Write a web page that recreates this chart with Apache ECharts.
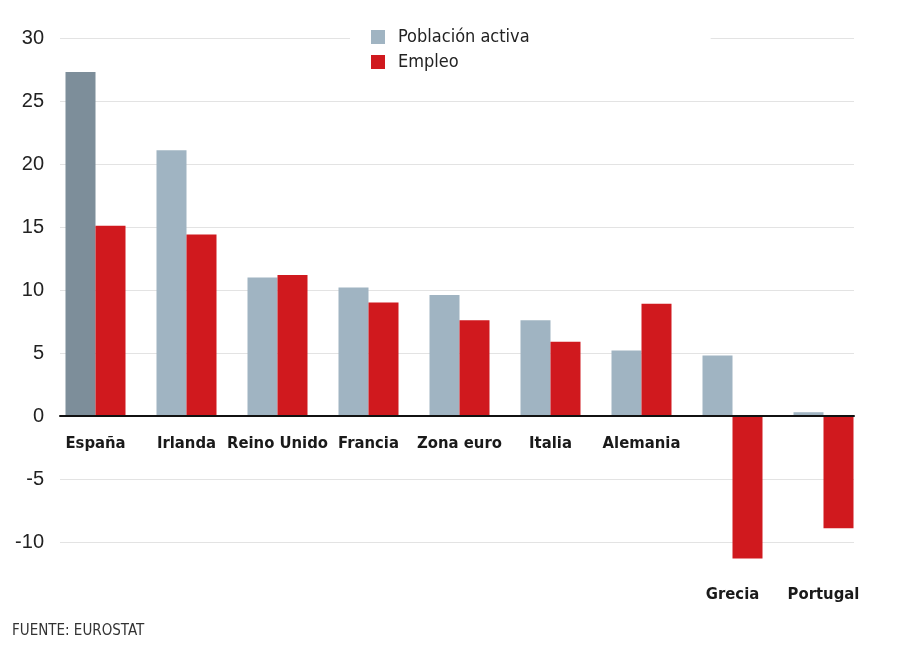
<!DOCTYPE html>
<html>
<head>
<meta charset="utf-8">
<script src="https://cdn.jsdelivr.net/npm/echarts@6/dist/echarts.min.js"></script>
<style>html,body{margin:0;padding:0;background:#fff}#c{width:900px;height:650px}</style>
</head>
<body>
<div id="c"></div>
<script>
const categories = ['España','Irlanda','Reino Unido','Francia','Zona euro','Italia','Alemania','Grecia','Portugal'];
const poblacionActiva = [27.3, 21.1, 11.0, 10.2, 9.6, 7.6, 5.2, 4.8, 0.3];
const empleo = [15.1, 14.4, 11.2, 9.0, 7.6, 5.9, 8.9, -11.3, -8.9];
const lowLabels = ['Grecia','Portugal'];
const yTicks = {min: -10, max: 30, interval: 5};

const condensed = '"DejaVu Sans Condensed","Liberation Sans Narrow",sans-serif';
const gridTop = 38, gridBottom = 108, chartH = 650;
// pixel distance from grid bottom up to the zero line
const zeroOffset = (chartH - gridTop - gridBottom) * (0 - yTicks.min) / (yTicks.max - yTicks.min);

const chart = echarts.init(document.getElementById('c'), null, {renderer: 'canvas'});
chart.setOption({
  backgroundColor: '#fff',
  animation: false,
  graphic: [{
    type: 'text', left: 12, top: 624,
    style: {text: 'FUENTE: EUROSTAT', fill: '#333', font: '15px ' + condensed}
  }],
  legend: {
    orient: 'vertical', left: 350, top: 25,
    backgroundColor: '#fff',
    padding: [2, 181, 2, 21],
    itemGap: 5, itemWidth: 14, itemHeight: 14, icon: 'rect',
    textStyle: {color: '#222', fontSize: 18, fontFamily: condensed, lineHeight: 20, padding: [0, 0, 0, 8]},
    data: ['Población activa', 'Empleo']
  },
  grid: [
    {left: 60, right: 46, top: gridTop, bottom: gridBottom, outerBoundsMode: 'none', containLabel: false},
    {left: 50, right: 31, top: gridTop, bottom: gridBottom, outerBoundsMode: 'none', containLabel: false}
  ],
  xAxis: [
    {gridIndex: 0, type: 'category', data: categories, z: 5,
     axisLine: {onZero: true, lineStyle: {color: '#111', width: 2}},
     axisTick: {show: false}, axisLabel: {show: false}, splitLine: {show: false}},
    {gridIndex: 1, type: 'category', data: categories, offset: -zeroOffset,
     axisLine: {show: false, onZero: false}, axisTick: {show: false},
     axisLabel: {
       margin: 17, interval: 0,
       formatter: v => lowLabels.includes(v) ? '{d|' + v + '}' : '{n|' + v + '}',
       rich: {
         n: {fontSize: 16.5, fontWeight: 'bold', fontFamily: condensed, color: '#1a1a1a', lineHeight: 22},
         d: {fontSize: 16.5, fontWeight: 'bold', fontFamily: condensed, color: '#1a1a1a', lineHeight: 22, padding: [302, 0, 0, 0]}
       }
     }}
  ],
  yAxis: [
    {gridIndex: 0, type: 'value', min: yTicks.min, max: yTicks.max, interval: yTicks.interval,
     axisLine: {show: false}, axisTick: {show: false},
     axisLabel: {margin: 16, color: '#222', fontSize: 20, fontFamily: '"Liberation Sans","Roboto",sans-serif'},
     splitLine: {lineStyle: {color: '#e3e3e3', width: 1}}},
    {gridIndex: 1, type: 'value', min: yTicks.min, max: yTicks.max, interval: yTicks.interval, show: false,
     splitLine: {show: false}}
  ],
  series: [
    {name: 'Población activa', type: 'bar', xAxisIndex: 1, yAxisIndex: 1, barWidth: 30, barGap: '0%', clip: false,
     itemStyle: {color: '#a0b4c2'},
     data: poblacionActiva.map((v, i) => i === 0 ? {value: v, itemStyle: {color: '#7d8e9a'}} : v)},
    {name: 'Empleo', type: 'bar', xAxisIndex: 1, yAxisIndex: 1, barWidth: 30, barGap: '0%', clip: false,
     itemStyle: {color: '#d0191e'},
     data: empleo}
  ]
});
</script>
</body>
</html>
